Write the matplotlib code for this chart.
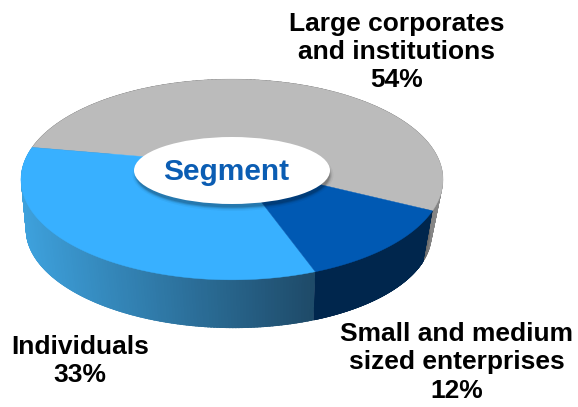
import numpy as np
import matplotlib
matplotlib.use("Agg")
import matplotlib.pyplot as plt
from matplotlib.collections import PolyCollection
from matplotlib.patches import Ellipse, Polygon

plt.rcParams['font.family'] = ['Liberation Sans', 'DejaVu Sans']

# Slices in counter-clockwise order from the start edge
segments = ["Large corporates\nand institutions", "Individuals", "Small and medium\nsized enterprises"]
shares = [54, 33, 12]
top_colors = ["#BBBBBB", "#38B0FF", "#0059B3"]
center_title = "Segment"

W, H = 578, 407
fig = plt.figure(figsize=(W / 100, H / 100), dpi=100)
ax = fig.add_axes([0, 0, 1, 1])
ax.set_xlim(0, W)
ax.set_ylim(H, 0)
ax.axis("off")

TILT = 0.154


def rim(theta, x0, y0, rx, ry, shear=0.0):
    """Project points on a horizontal disc to the page with a simple perspective."""
    u, v = np.cos(theta), np.sin(theta)
    s = 1 / (1 + TILT * v)
    return x0 + rx * u * s - shear * v * s, y0 - ry * v * s


def convex_hull(points):
    """Monotone-chain hull, used to trim the wall strips to a clean silhouette."""
    pts = sorted(map(tuple, points))

    def half(seq):
        out = []
        for p in seq:
            while len(out) > 1 and ((out[-1][0] - out[-2][0]) * (p[1] - out[-2][1])
                                    - (out[-1][1] - out[-2][1]) * (p[0] - out[-2][0])) <= 0:
                out.pop()
            out.append(p)
        return out[:-1]

    return np.array(half(pts) + half(pts[::-1]))


UPPER = (232, 164, 208.5, 98, 0.0)
LOWER = (228, 217, 200.5, 94, 5.0)

fractions = np.array(shares) / np.sum(shares)
start = np.deg2rad(-26.4)
edges = start + np.concatenate([[0], np.cumsum(fractions)]) * 2 * np.pi
spans = list(zip(edges[:-1], edges[1:]))


def wall_color(i, x):
    if i == 0:
        f = np.clip((x - 425) / 18, 0, 1)
        return np.array([70, 70, 70]) * (1 - f) + np.array([135, 135, 135]) * f
    if i == 2:
        return np.array([0, 38, 77])
    f = np.clip((x - 20) / (316 - 20), 0, 1)
    return np.array([62, 162, 222]) * (1 - f) + np.array([30, 74, 104]) * f


for i, (a, b) in enumerate(spans):
    ts = np.linspace(a, b, 161)
    x1, y1 = rim(ts, *UPPER)
    x2, y2 = rim(ts, *LOWER)
    outline = Polygon(convex_hull(np.c_[np.r_[x1, x2], np.r_[y1, y2]]), closed=True,
                      fc="none", ec="none", transform=ax.transData)
    ax.add_patch(outline)
    quads, cols = [], []
    for j in range(len(ts) - 1):
        quads.append([(x1[j], y1[j]), (x1[j + 1], y1[j + 1]), (x2[j + 1], y2[j + 1]), (x2[j], y2[j])])
        cols.append(wall_color(i, (x1[j] + x1[j + 1]) / 2) / 255)
    strips = PolyCollection(quads, facecolors=cols, edgecolors=cols, linewidths=1.6, zorder=1 + 0.1 * i)
    ax.add_collection(strips)
    strips.set_clip_path(outline)

cx, cy = UPPER[0], UPPER[1]
for i, (a, b) in enumerate(spans):
    ts = np.linspace(a, b, 240)
    x, y = rim(ts, *UPPER)
    ax.fill(np.r_[cx, x], np.r_[cy, y], color=top_colors[i], lw=0.3, zorder=2)

# centre badge with a soft drop shadow
for grow, alpha in [(7, 0.04), (4, 0.07), (2, 0.10), (0, 0.14)]:
    ax.add_patch(Ellipse((233, 175), 194 + grow, 65 + grow, fc="black", ec="none", alpha=alpha, zorder=3))
ax.add_patch(Ellipse((232, 170.5), 196, 67, fc="white", ec="none", zorder=4))
ax.text(226, 172, center_title, color="#0B5DB3", fontsize=21.5, fontweight="bold",
        ha="center", va="center", zorder=5)

label_pos = {"Large corporates\nand institutions": (397, 52),
             "Small and medium\nsized enterprises": (457, 362.5),
             "Individuals": (80, 361)}
for name, share in zip(segments, shares):
    lx, ly = label_pos[name]
    ax.text(lx, ly, f"{name}\n{share}%", color="black", fontsize=19, fontweight="bold",
            ha="center", va="center", linespacing=1.22, zorder=6)

fig.savefig("out.png", dpi=100)
